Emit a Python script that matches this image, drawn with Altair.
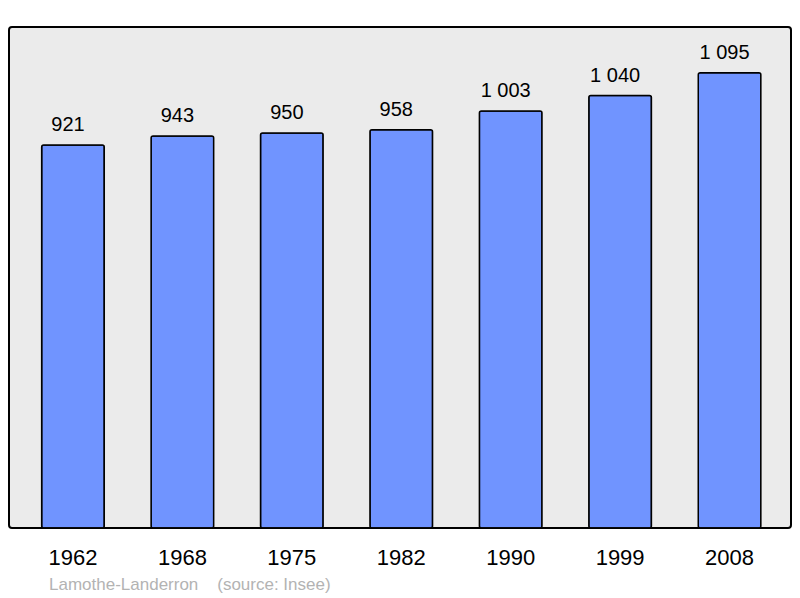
import altair as alt
import pandas as pd

years = ["1962", "1968", "1975", "1982", "1990", "1999", "2008"]
population = [921, 943, 950, 958, 1003, 1040, 1095]
labels = [f"{v:,}".replace(",", " ") for v in population]

df = pd.DataFrame({"year": years, "pop": population, "label": labels})

FONT = "Liberation Sans"

x = alt.X(
    "year:N",
    sort=None,
    title=None,
    scale=alt.Scale(paddingInner=0.428, paddingOuter=0.287, align=0.52),
    axis=alt.Axis(
        labelAngle=0,
        domain=False,
        ticks=False,
        tickSize=0,
        labelFontSize=22,
        labelFont=FONT,
        labelColor="black",
        labelBaseline="alphabetic",
        labelPadding=36,
    ),
)
y = alt.Y("pop:Q", scale=alt.Scale(domain=[0, 1205], nice=False, zero=True), axis=None)

bars = alt.Chart(df).mark_bar(
    color="#7094ff", stroke="black", strokeWidth=1.5, cornerRadius=2
).encode(x=x, y=y)

text = alt.Chart(df).mark_text(
    baseline="alphabetic", dy=-14, dx=-5, fontSize=20, font=FONT, color="black"
).encode(x=x, y=y, text="label:N")

chart = (bars + text).properties(
    width=782,
    height=501,
    padding={"left": 1, "top": 19, "right": 1, "bottom": 68},
    autosize=alt.AutoSizeParams(type="none"),
    title=alt.TitleParams(
        text="Lamothe-Landerron\u00a0\u00a0\u00a0\u00a0(source: Insee)",
        orient="bottom",
        anchor="start",
        fontSize=17,
        font=FONT,
        fontWeight="normal",
        color="#b3b3b3",
        dx=40,
        offset=22,
        baseline="alphabetic",
    ),
).configure_view(
    fill="#ebebeb", stroke="black", strokeWidth=2, cornerRadius=3
)

chart.save("out.html", embed_options={"renderer": "svg", "actions": False})
